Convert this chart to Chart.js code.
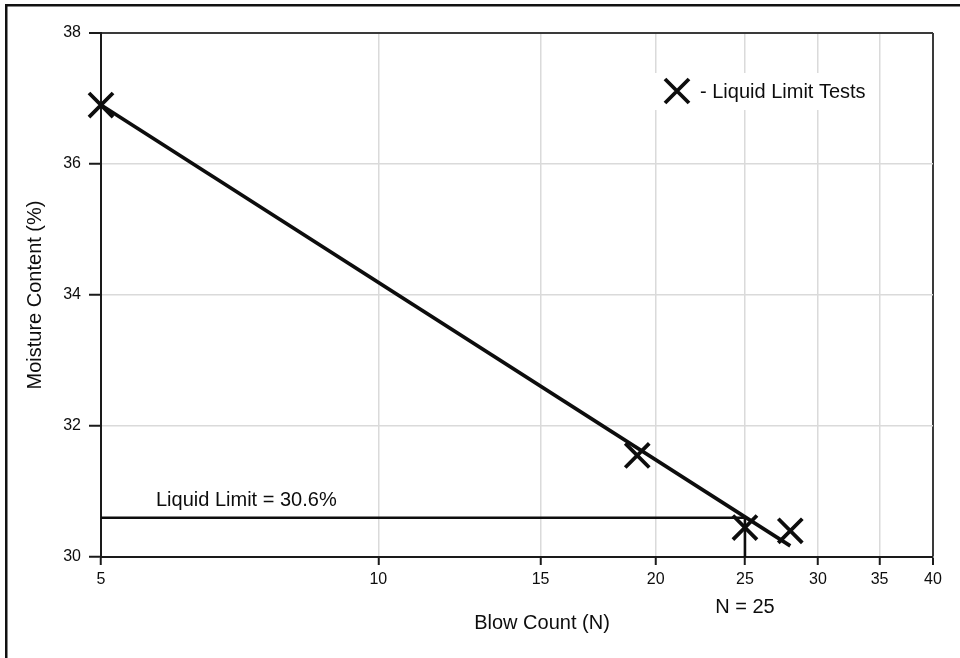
<!DOCTYPE html>
<html>
<head>
<meta charset="utf-8">
<script src="https://cdn.jsdelivr.net/npm/chart.js@4/dist/chart.umd.min.js"></script>
<style>
  html, body { margin: 0; padding: 0; background: #fff; }
  #wrap { width: 960px; height: 658px; }
</style>
</head>
<body>
<div id="wrap"><canvas id="chart" width="960" height="658"></canvas></div>
<script>
// Liquid limit test results (blow count N vs. moisture content %)
const blowCounts = [5, 19.1, 25, 28];
const moistureContents = [36.9, 31.55, 30.45, 30.4];

// Flow curve end points
const trendBlowCounts = [5, 28];
const trendMoisture = [36.9, 30.17];

// Liquid limit read at N = 25
const liquidLimitN = 25;
const liquidLimit = 30.6;

// Axis ticks
const xTickValues = [5, 10, 15, 20, 25, 30, 35, 40];
const yTickValues = [30, 32, 34, 36, 38];

const FONT = '"Liberation Sans", Arial, Helvetica, sans-serif';
const INK = '#0d0d0d';
Chart.defaults.font.family = FONT;
Chart.defaults.color = INK;

const pointsData = blowCounts.map((n, i) => ({ x: n, y: moistureContents[i] }));
const trendData = trendBlowCounts.map((n, i) => ({ x: n, y: trendMoisture[i] }));
const guideData = [
  { x: xTickValues[0], y: liquidLimit },
  { x: liquidLimitN, y: liquidLimit },
  { x: liquidLimitN, y: yTickValues[0] }
];

function drawX(ctx, cx, cy, half, width) {
  ctx.save();
  ctx.strokeStyle = INK;
  ctx.lineWidth = width;
  ctx.lineCap = 'butt';
  ctx.beginPath();
  ctx.moveTo(cx - half, cy - half);
  ctx.lineTo(cx + half, cy + half);
  ctx.moveTo(cx + half, cy - half);
  ctx.lineTo(cx - half, cy + half);
  ctx.stroke();
  ctx.restore();
}

const decorations = {
  id: 'decorations',
  beforeDraw(chart) {
    const ctx = chart.ctx;
    ctx.save();
    ctx.fillStyle = '#fff';
    ctx.fillRect(0, 0, chart.width, chart.height);
    ctx.restore();
  },
  beforeDatasetsDraw(chart) {
    const ctx = chart.ctx;
    // legend box inside the plot
    ctx.save();
    ctx.fillStyle = '#fff';
    ctx.fillRect(652, 73, 222, 37);
    drawX(ctx, 677, 91, 12, 3.8);
    ctx.fillStyle = INK;
    ctx.font = '20px ' + FONT;
    ctx.textBaseline = 'middle';
    ctx.textAlign = 'left';
    ctx.fillText('- Liquid Limit Tests', 700, 92);
    ctx.restore();
  },
  afterDraw(chart) {
    const ctx = chart.ctx;
    const xs = chart.scales.x;
    ctx.save();
    // page frame
    ctx.fillStyle = '#111';
    ctx.fillRect(5, 4, chart.width - 5, 2.5);
    ctx.fillRect(5, 4, 2.5, chart.height - 4);

    ctx.fillStyle = INK;
    ctx.font = '20px ' + FONT;
    ctx.textBaseline = 'middle';

    ctx.textAlign = 'left';
    ctx.fillText('Liquid Limit = ' + liquidLimit + '%', 156, 500);

    ctx.textAlign = 'center';
    ctx.fillText('N = ' + liquidLimitN, xs.getPixelForValue(liquidLimitN), 607);

    ctx.fillText('Blow Count (N)', 542, 623);

    ctx.translate(35, 295);
    ctx.rotate(-Math.PI / 2);
    ctx.fillText('Moisture Content (%)', 0, 0);
    ctx.restore();
  }
};

new Chart(document.getElementById('chart'), {
  type: 'scatter',
  data: {
    datasets: [
      {
        label: 'Liquid Limit Tests',
        data: pointsData,
        showLine: false,
        pointStyle: 'crossRot',
        pointRadius: 17,
        pointHoverRadius: 17,
        borderColor: INK,
        backgroundColor: INK,
        pointBorderWidth: 3.8,
        clip: false,
        order: 0
      },
      {
        label: 'Flow curve',
        data: trendData,
        showLine: true,
        pointRadius: 0,
        borderColor: INK,
        borderWidth: 3.6,
        fill: false,
        clip: false,
        order: 1
      },
      {
        label: 'Liquid limit guide',
        data: guideData,
        showLine: true,
        pointRadius: 0,
        borderColor: INK,
        borderWidth: 2.6,
        fill: false,
        clip: false,
        order: 2
      }
    ]
  },
  options: {
    responsive: false,
    animation: false,
    devicePixelRatio: 1,
    layout: { padding: { left: 0, top: 33, right: 27, bottom: 0 } },
    plugins: {
      legend: { display: false },
      tooltip: { enabled: false }
    },
    scales: {
      x: {
        type: 'logarithmic',
        min: xTickValues[0],
        max: xTickValues[xTickValues.length - 1],
        afterBuildTicks(scale) {
          scale.ticks = xTickValues.map(v => ({ value: v }));
        },
        afterFit(scale) { scale.height = 101; },
        ticks: {
          autoSkip: false,
          maxRotation: 0,
          padding: 5,
          color: INK,
          font: { size: 16 },
          callback: v => String(v)
        },
        grid: {
          color: c => (c.tick && c.tick.value === 40) ? '#3a3a3a' : '#dadada',
          lineWidth: c => (c.tick && c.tick.value === 40) ? 2 : 1.5,
          tickColor: '#1a1a1a',
          tickWidth: 2,
          tickLength: 8
        },
        border: { color: '#1a1a1a', width: 2 }
      },
      y: {
        type: 'linear',
        min: yTickValues[0],
        max: yTickValues[yTickValues.length - 1],
        afterBuildTicks(scale) {
          scale.ticks = yTickValues.map(v => ({ value: v }));
        },
        afterFit(scale) { scale.width = 101; },
        ticks: {
          padding: 8,
          color: INK,
          font: { size: 16 },
          callback: v => String(v)
        },
        grid: {
          color: c => (c.tick && c.tick.value === 38) ? '#3a3a3a' : '#dadada',
          lineWidth: c => (c.tick && c.tick.value === 38) ? 2 : 1.5,
          tickColor: '#1a1a1a',
          tickWidth: 2,
          tickLength: 12
        },
        border: { color: '#1a1a1a', width: 2 }
      }
    }
  },
  plugins: [decorations]
});
</script>
</body>
</html>
